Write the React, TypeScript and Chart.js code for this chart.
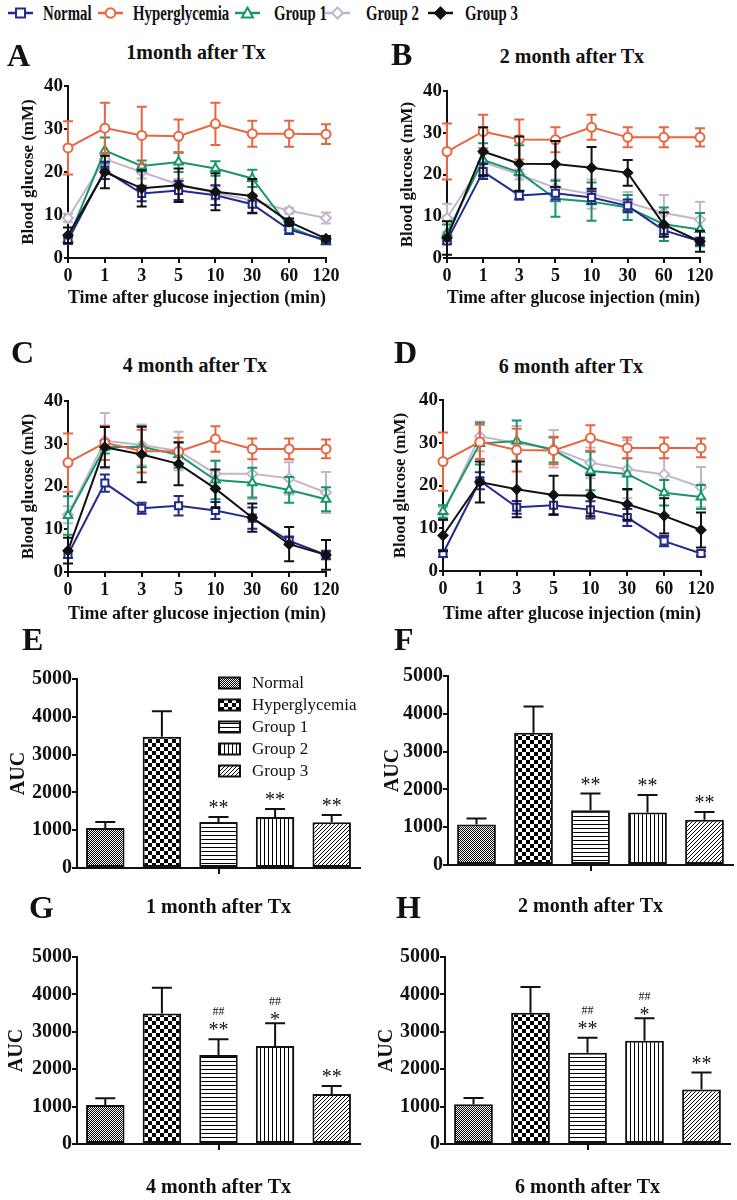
import React, { useEffect, useRef } from 'react';
import { Chart, registerables } from 'chart.js';

Chart.register(...registerables);

const FONT = "'Liberation Serif', 'Times New Roman', Times, serif";
const INK = '#111111';

// ---------- shared categories / ticks ----------
const timeLabels = ['0', '1', '3', '5', '10', '30', '60', '120'];
const groupNames = ['Normal', 'Hyperglycemia', 'Group 1', 'Group 2', 'Group 3'];
const glucoseTicks = [0, 10, 20, 30, 40];
const aucTicks = [0, 1000, 2000, 3000, 4000, 5000];

// ---------- Panel A : 1 month ----------
const A_normal = [4.1, 20.4, 15.0, 15.7, 14.6, 12.5, 6.6, 4.2];
const A_normalErr = [0.7, 2.0, 1.8, 2.2, 2.3, 2.0, 1.0, 0.8];
const A_hyper = [25.6, 30.2, 28.5, 28.3, 31.2, 28.9, 28.9, 28.8];
const A_hyperErr = [6.2, 5.9, 6.7, 3.9, 4.9, 3.0, 3.0, 2.3];
const A_g1 = [4.3, 25.0, 21.4, 22.3, 20.8, 18.5, 7.2, 3.8];
const A_g1Err = [1.0, 3.0, 1.3, 2.3, 1.7, 2.0, 0.8, 0.6];
const A_g2 = [9.3, 23.0, 20.0, 17.1, 15.1, 13.4, 11.0, 9.3];
const A_g2Err = [1.0, 1.5, 1.5, 1.3, 1.5, 1.5, 0.7, 1.3];
const A_g3 = [5.3, 20.0, 16.2, 16.9, 15.4, 14.4, 8.4, 4.5];
const A_g3Err = [1.8, 3.8, 4.2, 3.9, 4.3, 4.0, 0.8, 0.6];

// ---------- Panel B : 2 month ----------
const B_normal = [4.1, 20.7, 15.0, 15.5, 14.5, 12.5, 6.6, 4.0];
const B_normalErr = [0.7, 1.8, 1.0, 1.5, 1.5, 1.5, 1.0, 0.8];
const B_hyper = [25.5, 30.3, 28.4, 28.3, 31.3, 28.9, 28.9, 28.9];
const B_hyperErr = [6.7, 4.0, 4.8, 3.0, 3.0, 2.4, 2.4, 2.2];
const B_g1 = [6.0, 23.5, 20.5, 14.2, 13.5, 12.1, 8.1, 6.8];
const B_g1Err = [2.0, 4.0, 6.5, 4.3, 4.6, 3.0, 4.0, 4.0];
const B_g2 = [9.6, 23.0, 20.0, 16.8, 15.3, 13.3, 10.8, 9.2];
const B_g2Err = [3.4, 2.0, 1.2, 2.0, 3.5, 2.5, 4.3, 4.3];
const B_g3 = [4.8, 25.5, 22.6, 22.5, 21.6, 20.4, 8.0, 4.0];
const B_g3Err = [4.0, 5.8, 6.5, 5.5, 5.0, 3.1, 2.9, 2.5];

// ---------- Panel C : 4 month ----------
const C_normal = [4.1, 20.8, 14.9, 15.5, 14.4, 12.6, 7.3, 4.0];
const C_normalErr = [0.8, 2.0, 1.3, 2.3, 2.0, 2.5, 1.0, 1.0];
const C_hyper = [25.6, 30.2, 28.3, 28.2, 31.1, 28.8, 28.8, 28.8];
const C_hyperErr = [6.8, 4.0, 5.0, 3.2, 3.0, 2.4, 2.4, 2.2];
const C_g1 = [13.2, 29.2, 29.3, 27.4, 21.5, 20.9, 19.2, 17.0];
const C_g1Err = [4.5, 1.5, 4.8, 3.0, 4.5, 3.5, 3.0, 2.8];
const C_g2 = [13.4, 30.7, 29.7, 28.3, 23.0, 23.0, 21.9, 18.6];
const C_g2Err = [2.0, 6.5, 4.8, 4.5, 3.0, 6.0, 3.8, 4.8];
const C_g3 = [5.0, 29.2, 27.5, 25.3, 19.5, 12.7, 6.5, 4.0];
const C_g3Err = [3.0, 4.7, 6.5, 5.0, 4.5, 3.3, 4.0, 3.5];

// ---------- Panel D : 6 month ----------
const D_normal = [4.1, 21.1, 14.9, 15.4, 14.3, 12.5, 7.0, 4.1];
const D_normalErr = [0.8, 2.0, 1.5, 2.3, 2.0, 2.0, 1.2, 0.6];
const D_hyper = [25.6, 30.2, 28.3, 28.2, 31.1, 28.8, 28.8, 28.8];
const D_hyperErr = [6.8, 4.0, 5.0, 3.2, 3.0, 2.4, 2.4, 2.2];
const D_g1 = [13.9, 29.8, 30.4, 28.3, 23.4, 22.7, 18.3, 17.3];
const D_g1Err = [1.5, 4.9, 4.8, 2.9, 4.5, 3.7, 3.0, 2.8];
const D_g2 = [13.4, 31.5, 29.9, 28.6, 25.3, 23.8, 22.6, 19.6];
const D_g2Err = [1.5, 3.5, 4.0, 4.4, 3.6, 6.8, 3.8, 4.7];
const D_g3 = [8.3, 20.8, 19.1, 17.8, 17.6, 15.6, 12.9, 9.6];
const D_g3Err = [3.7, 4.8, 6.5, 4.5, 4.8, 3.6, 4.1, 4.1];

// ---------- AUC bars (E-H) ----------
const E_auc = [1060, 3470, 1220, 1350, 1210];
const E_err = [160, 680, 130, 210, 190];
const E_stars = ['', '', '**', '**', '**'];
const E_hash = ['', '', '', '', ''];
const F_auc = [1070, 3500, 1450, 1390, 1200];
const F_err = [160, 690, 440, 460, 200];
const F_stars = ['', '', '**', '**', '**'];
const F_hash = ['', '', '', '', ''];
const G_auc = [1040, 3490, 2380, 2620, 1340];
const G_err = [180, 690, 420, 610, 210];
const G_stars = ['', '', '**', '*', '**'];
const G_hash = ['', '', '##', '##', ''];
const H_auc = [1060, 3510, 2440, 2760, 1460];
const H_err = [170, 690, 400, 600, 450];
const H_stars = ['', '', '**', '*', '**'];
const H_hash = ['', '', '##', '##', ''];

// ---------- styles ----------
const seriesColors = ['#232a8f', '#e9653f', '#16966a', '#c4b4ce', '#111111'];
const pointStyles = ['rect', 'circle', 'triangle', 'rectRot', 'rectRot'];
const pointRadii = [5, 4.5, 5, 5, 4.5];
const pointFills = ['#ffffff', '#ffffff', '#ffffff', '#ffffff', '#111111'];
const drawOrder = [1, 2, 3, 4, 0];
const patternKinds = ['fine', 'checker', 'hlines', 'vlines', 'diag'];

let patternCache: any[] | null = null;
function getPatterns() {
  if (patternCache) return patternCache;
  patternCache = patternKinds.map((kind) => {
    const c = document.createElement('canvas');
    const size = kind === 'checker' ? 8 : kind === 'fine' ? 2 : 4;
    c.width = size;
    c.height = size;
    const g = c.getContext('2d') as CanvasRenderingContext2D;
    g.fillStyle = '#ffffff';
    g.fillRect(0, 0, size, size);
    g.fillStyle = '#000000';
    if (kind === 'fine') {
      g.fillRect(0, 0, 1, 1);
      g.fillRect(1, 1, 1, 1);
    } else if (kind === 'checker') {
      g.fillRect(0, 0, 4, 4);
      g.fillRect(4, 4, 4, 4);
    } else if (kind === 'hlines') {
      g.fillRect(0, 0, 4, 1);
    } else if (kind === 'vlines') {
      g.fillRect(0, 0, 1, 4);
    } else {
      for (let i = 0; i < 4; i++) g.fillRect(i, 3 - i, 1, 1);
    }
    return g.createPattern(c, 'repeat');
  });
  return patternCache;
}

// ---------- plugins ----------
const lineErrorPlugin = {
  id: 'lineErrorBars',
  beforeDatasetDraw(chart: any, args: any) {
    const ds = chart.data.datasets[args.index];
    const errs = ds.errors;
    if (!errs) return;
    const y = chart.scales.y;
    const ctx = chart.ctx;
    ctx.save();
    ctx.strokeStyle = ds.borderColor;
    ctx.lineWidth = 2;
    args.meta.data.forEach((pt: any, i: number) => {
      const v = ds.data[i];
      const e = errs[i];
      const x = pt.x;
      const yt = y.getPixelForValue(v + e);
      const yb = y.getPixelForValue(Math.max(0, v - e));
      ctx.beginPath();
      ctx.moveTo(x, yt);
      ctx.lineTo(x, yb);
      ctx.moveTo(x - 5, yt);
      ctx.lineTo(x + 5, yt);
      ctx.moveTo(x - 5, yb);
      ctx.lineTo(x + 5, yb);
      ctx.stroke();
    });
    ctx.restore();
  },
};

const barExtrasPlugin = {
  id: 'barExtras',
  afterDatasetsDraw(chart: any) {
    const ds = chart.data.datasets[0];
    const meta = chart.getDatasetMeta(0);
    const y = chart.scales.y;
    const ctx = chart.ctx;
    ctx.save();
    ctx.strokeStyle = INK;
    ctx.fillStyle = INK;
    ctx.lineWidth = 2;
    ctx.textAlign = 'center';
    ctx.textBaseline = 'alphabetic';
    meta.data.forEach((bar: any, i: number) => {
      const top = y.getPixelForValue(ds.data[i] + ds.errors[i]);
      ctx.beginPath();
      ctx.moveTo(bar.x, bar.y);
      ctx.lineTo(bar.x, top);
      ctx.moveTo(bar.x - 10, top);
      ctx.lineTo(bar.x + 10, top);
      ctx.stroke();
      const star = ds.stars[i];
      const base = star.length === 1 ? top + 3 : top - 3;
      if (star) {
        ctx.font = `20px ${FONT}`;
        ctx.fillText(star, bar.x, base);
      }
      if (ds.hashes[i]) {
        ctx.font = `12px ${FONT}`;
        ctx.fillText(ds.hashes[i], bar.x, base - 21);
      }
    });
    ctx.restore();
  },
};

const patternLegendPlugin = {
  id: 'patternLegend',
  afterDraw(chart: any) {
    const { ctx, chartArea } = chart;
    const ds = chart.data.datasets[0];
    const x0 = chartArea.right - 141;
    ctx.save();
    chart.data.labels.forEach((name: string, i: number) => {
      const cy = chartArea.top + 4 + i * 22;
      ctx.fillStyle = ds.backgroundColor[i];
      ctx.fillRect(x0, cy - 5.5, 21, 11);
      ctx.strokeStyle = INK;
      ctx.lineWidth = 2;
      ctx.strokeRect(x0, cy - 5.5, 21, 11);
      ctx.fillStyle = INK;
      ctx.font = `17px ${FONT}`;
      ctx.textAlign = 'left';
      ctx.textBaseline = 'middle';
      ctx.fillText(name, x0 + 33, cy + 1);
    });
    ctx.restore();
  },
};

// ---------- layout ----------
const linePanels = [
  {
    key: 'A',
    series: [A_normal, A_hyper, A_g1, A_g2, A_g3],
    errors: [A_normalErr, A_hyperErr, A_g1Err, A_g2Err, A_g3Err],
    canvas: { left: 0, top: 64, width: 368, height: 250 },
    plot: { left: 68, top: 86, right: 326, bottom: 258 },
    yTitlePad: 18,
    xTitlePad: 5,
  },
  {
    key: 'B',
    series: [B_normal, B_hyper, B_g1, B_g2, B_g3],
    errors: [B_normalErr, B_hyperErr, B_g1Err, B_g2Err, B_g3Err],
    canvas: { left: 370, top: 69, width: 367, height: 245 },
    plot: { left: 447, top: 91, right: 700, bottom: 258 },
    yTitlePad: 27,
    xTitlePad: 5,
  },
  {
    key: 'C',
    series: [C_normal, C_hyper, C_g1, C_g2, C_g3],
    errors: [C_normalErr, C_hyperErr, C_g1Err, C_g2Err, C_g3Err],
    canvas: { left: 0, top: 379, width: 368, height: 251 },
    plot: { left: 68, top: 401, right: 326, bottom: 572 },
    yTitlePad: 18,
    xTitlePad: 5,
  },
  {
    key: 'D',
    series: [D_normal, D_hyper, D_g1, D_g2, D_g3],
    errors: [D_normalErr, D_hyperErr, D_g1Err, D_g2Err, D_g3Err],
    canvas: { left: 370, top: 378, width: 367, height: 252 },
    plot: { left: 443, top: 400, right: 701, bottom: 571 },
    yTitlePad: 20,
    xTitlePad: 5,
  },
];

const barPanels = [
  {
    key: 'E', values: E_auc, errors: E_err, stars: E_stars, hashes: E_hash,
    title: '1 month after Tx', legend: true,
    canvas: { left: 0, top: 655, width: 368, height: 267 },
    plot: { left: 77, top: 679, right: 360, bottom: 868 },
    yTitlePad: 7, xTitlePad: 2,
  },
  {
    key: 'F', values: F_auc, errors: F_err, stars: F_stars, hashes: F_hash,
    title: '2 month after Tx', legend: false,
    canvas: { left: 370, top: 652, width: 367, height: 270 },
    plot: { left: 448, top: 676, right: 733, bottom: 865 },
    yTitlePad: 11, xTitlePad: 3,
  },
  {
    key: 'G', values: G_auc, errors: G_err, stars: G_stars, hashes: G_hash,
    title: '4 month after Tx', legend: false,
    canvas: { left: 0, top: 933, width: 368, height: 267 },
    plot: { left: 77, top: 957, right: 360, bottom: 1144 },
    yTitlePad: 5, xTitlePad: 0,
  },
  {
    key: 'H', values: H_auc, errors: H_err, stars: H_stars, hashes: H_hash,
    title: '6 month after Tx', legend: false,
    canvas: { left: 370, top: 933, width: 367, height: 267 },
    plot: { left: 445, top: 957, right: 730, bottom: 1144 },
    yTitlePad: 5, xTitlePad: 0,
  },
];

const letters = [
  { t: 'A', x: 7, cy: 55 },
  { t: 'B', x: 391, cy: 54 },
  { t: 'C', x: 11, cy: 352 },
  { t: 'D', x: 394, cy: 352 },
  { t: 'E', x: 22, cy: 639 },
  { t: 'F', x: 394, cy: 639 },
  { t: 'G', x: 29, cy: 907 },
  { t: 'H', x: 396, cy: 907 },
];

const lineTitles = [
  { t: '1month after Tx', cx: 196, cy: 52 },
  { t: '2 month after Tx', cx: 572, cy: 56 },
  { t: '4 month after Tx', cx: 195, cy: 365 },
  { t: '6 month after Tx', cx: 571, cy: 366 },
];

const legendSymbolX = [20, 110, 247, 337, 440];
const legendTextX = [43, 133, 274, 366, 465];
const legendY = 13;

const boldFont = (size: number) => ({ family: FONT, size, weight: 'bold' as const });

function lineConfig(p: any): any {
  const cv = p.canvas;
  const pl = p.plot;
  return {
    type: 'line',
    data: {
      labels: timeLabels,
      datasets: p.series.map((vals: number[], i: number) => ({
        label: groupNames[i],
        data: vals,
        errors: p.errors[i],
        borderColor: seriesColors[i],
        backgroundColor: pointFills[i],
        borderWidth: 2,
        tension: 0,
        fill: false,
        pointStyle: pointStyles[i],
        pointRadius: pointRadii[i],
        pointBorderWidth: 2,
        pointBackgroundColor: pointFills[i],
        pointBorderColor: seriesColors[i],
        order: drawOrder[i],
      })),
    },
    options: {
      responsive: false,
      animation: false,
      devicePixelRatio: 1,
      layout: {
        padding: { left: 0, top: pl.top - cv.top, right: cv.left + cv.width - pl.right, bottom: 0 },
      },
      plugins: { legend: { display: false }, tooltip: { enabled: false }, title: { display: false } },
      scales: {
        x: {
          type: 'category',
          offset: false,
          grid: { display: true, drawOnChartArea: false, drawTicks: true, tickLength: 5, color: INK, lineWidth: 2 },
          border: { display: true, color: INK, width: 2 },
          ticks: { color: INK, padding: 3, autoSkip: false, maxRotation: 0, font: boldFont(18) },
          title: {
            display: true,
            text: 'Time after glucose injection (min)',
            color: INK,
            font: boldFont(18),
            padding: { top: 0, bottom: p.xTitlePad },
          },
          afterFit: (s: any) => {
            s.height = cv.top + cv.height - pl.bottom;
          },
        },
        y: {
          type: 'linear',
          min: glucoseTicks[0],
          max: glucoseTicks[glucoseTicks.length - 1],
          grid: { display: true, drawOnChartArea: false, drawTicks: true, tickLength: 4, color: INK, lineWidth: 2 },
          border: { display: true, color: INK, width: 2 },
          ticks: {
            stepSize: glucoseTicks[1] - glucoseTicks[0],
            color: INK,
            padding: 1,
            font: boldFont(19),
            callback: (v: any) => String(v),
          },
          title: {
            display: true,
            text: 'Blood glucose (mM)',
            color: INK,
            font: boldFont(17),
            padding: { top: p.yTitlePad, bottom: 0 },
          },
          afterFit: (s: any) => {
            s.width = pl.left - cv.left;
          },
        },
      },
    },
    plugins: [lineErrorPlugin],
  };
}

function barConfig(p: any): any {
  const cv = p.canvas;
  const pl = p.plot;
  const plugins: any[] = [barExtrasPlugin];
  if (p.legend) plugins.push(patternLegendPlugin);
  return {
    type: 'bar',
    data: {
      labels: groupNames,
      datasets: [
        {
          label: 'AUC',
          data: p.values,
          errors: p.errors,
          stars: p.stars,
          hashes: p.hashes,
          backgroundColor: getPatterns(),
          borderColor: INK,
          borderWidth: 2,
          borderSkipped: false,
          barPercentage: 0.68,
          categoryPercentage: 1,
        },
      ],
    },
    options: {
      responsive: false,
      animation: false,
      devicePixelRatio: 1,
      layout: {
        padding: { left: 0, top: pl.top - cv.top, right: cv.left + cv.width - pl.right, bottom: 0 },
      },
      plugins: { legend: { display: false }, tooltip: { enabled: false }, title: { display: false } },
      scales: {
        x: {
          type: 'category',
          offset: true,
          grid: {
            display: true,
            offset: false,
            drawOnChartArea: false,
            drawTicks: true,
            tickLength: 6,
            lineWidth: 2,
            color: (c: any) => (c.index === 2 ? INK : 'rgba(0,0,0,0)'),
          },
          border: { display: true, color: INK, width: 2 },
          ticks: { callback: () => '', autoSkip: false, maxRotation: 0 },
          title: {
            display: true,
            text: p.title,
            color: INK,
            font: boldFont(20),
            padding: { top: 0, bottom: p.xTitlePad },
          },
          afterFit: (s: any) => {
            s.height = cv.top + cv.height - pl.bottom;
          },
        },
        y: {
          type: 'linear',
          min: aucTicks[0],
          max: aucTicks[aucTicks.length - 1],
          grid: { display: true, drawOnChartArea: false, drawTicks: true, tickLength: 5, color: INK, lineWidth: 2 },
          border: { display: true, color: INK, width: 2 },
          ticks: {
            stepSize: aucTicks[1] - aucTicks[0],
            color: INK,
            padding: 0,
            font: boldFont(20),
            callback: (v: any) => String(v),
          },
          title: {
            display: true,
            text: 'AUC',
            color: INK,
            font: boldFont(20),
            padding: { top: p.yTitlePad, bottom: 0 },
          },
          afterFit: (s: any) => {
            s.width = pl.left - cv.left;
          },
        },
      },
    },
    plugins,
  };
}

function ChartBox({ box, make }: { box: any; make: () => any }) {
  const ref = useRef<HTMLCanvasElement>(null);
  useEffect(() => {
    const chart = new Chart(ref.current as HTMLCanvasElement, make());
    return () => chart.destroy();
  }, []);
  return (
    <canvas
      ref={ref}
      width={box.width}
      height={box.height}
      style={{ position: 'absolute', left: box.left, top: box.top, width: box.width, height: box.height }}
    />
  );
}

function LegendSymbol({ i }: { i: number }) {
  const c = seriesColors[i];
  const fill = pointFills[i];
  const style = pointStyles[i];
  let marker: any = null;
  if (style === 'rect') marker = <rect x={9} y={3.5} width={9} height={9} fill={fill} stroke={c} strokeWidth={2} />;
  else if (style === 'circle') marker = <circle cx={13.5} cy={8} r={4.8} fill={fill} stroke={c} strokeWidth={2} />;
  else if (style === 'triangle') marker = <polygon points="13.5,2.5 19,12.5 8,12.5" fill={fill} stroke={c} strokeWidth={2} />;
  else marker = <polygon points="13.5,2.5 19,8 13.5,13.5 8,8" fill={fill} stroke={c} strokeWidth={2} />;
  return (
    <svg
      width={27}
      height={16}
      style={{ position: 'absolute', left: legendSymbolX[i] - 13.5, top: legendY - 8 }}
    >
      <line x1={1} y1={8} x2={26} y2={8} stroke={c} strokeWidth={2.5} />
      {marker}
    </svg>
  );
}

export default function App() {
  return (
    <div
      style={{
        position: 'absolute',
        left: 0,
        top: 0,
        width: 737,
        height: 1200,
        background: '#ffffff',
        overflow: 'hidden',
        fontFamily: FONT,
        color: INK,
      }}
    >
      {linePanels.map((p) => (
        <ChartBox key={p.key} box={p.canvas} make={() => lineConfig(p)} />
      ))}
      {barPanels.map((p) => (
        <ChartBox key={p.key} box={p.canvas} make={() => barConfig(p)} />
      ))}

      {groupNames.map((name, i) => (
        <React.Fragment key={name}>
          <LegendSymbol i={i} />
          <span
            style={{
              position: 'absolute',
              left: legendTextX[i],
              top: legendY - 10,
              fontSize: 20,
              lineHeight: '20px',
              fontWeight: 'bold',
              whiteSpace: 'nowrap',
              transform: 'scaleX(0.74)',
              transformOrigin: '0 50%',
            }}
          >
            {name}
          </span>
        </React.Fragment>
      ))}

      {letters.map((l) => (
        <div
          key={l.t}
          style={{
            position: 'absolute',
            left: l.x,
            top: l.cy - 16,
            fontSize: 32,
            lineHeight: '32px',
            fontWeight: 'bold',
          }}
        >
          {l.t}
        </div>
      ))}

      {lineTitles.map((t) => (
        <div
          key={t.t}
          style={{
            position: 'absolute',
            left: t.cx - 150,
            width: 300,
            top: t.cy - 10,
            fontSize: 20,
            lineHeight: '20px',
            fontWeight: 'bold',
            textAlign: 'center',
            whiteSpace: 'nowrap',
          }}
        >
          {t.t}
        </div>
      ))}
    </div>
  );
}
